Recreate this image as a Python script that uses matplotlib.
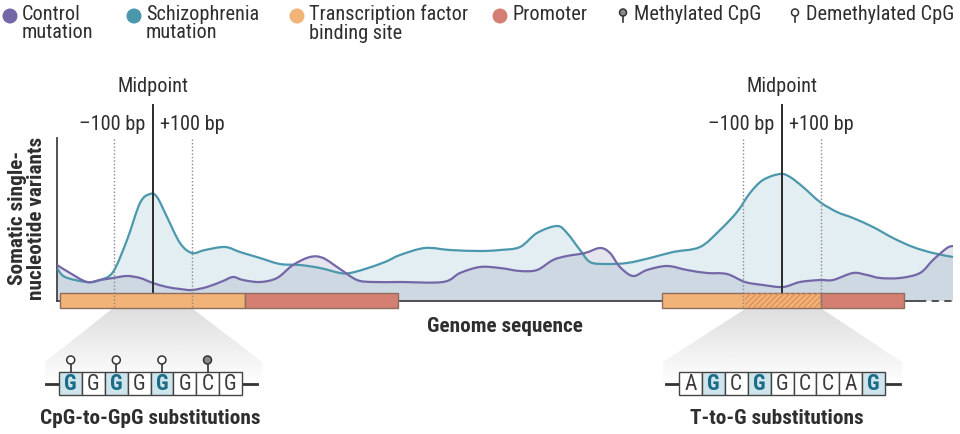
import numpy as np
import matplotlib
matplotlib.use("Agg")
import matplotlib.pyplot as plt
from matplotlib.path import Path
from matplotlib.patches import PathPatch, Rectangle, Circle, Polygon

plt.rcParams['font.family'] = ['Roboto Condensed', 'Roboto', 'DejaVu Sans']
plt.rcParams['hatch.linewidth'] = 1.0

# genome position (arbitrary units) and SNV density
schiz_x = [0, 8, 30, 43, 56, 70, 83, 93, 100, 110, 123, 135, 148, 168, 183, 203, 223, 243,
           263, 283, 293, 308, 328, 343, 368, 393, 423, 443, 463, 480, 500, 510, 523, 533,
           548, 570, 593, 616, 643, 663, 680, 693, 706, 723, 733, 746, 763, 780, 796, 816,
           836, 856, 876, 896]
schiz_y = [33, 24, 19, 21, 29, 61, 98, 107, 104, 84, 58, 48, 51, 54, 49, 43, 37, 36,
           33, 28, 28, 32, 39, 46, 53, 51, 50, 51, 54, 68, 75, 68, 51, 39,
           37, 38, 43, 49, 54, 71, 89, 108, 121, 127, 124, 114, 99, 89, 83, 74,
           63, 54, 48, 44]
ctrl_x = [0, 13, 30, 43, 56, 70, 83, 96, 110, 123, 135, 150, 166, 176, 186, 203, 220, 236,
          253, 266, 283, 300, 316, 343, 386, 403, 423, 443, 463, 480, 496, 510, 528, 543,
          553, 563, 576, 590, 610, 630, 650, 670, 688, 706, 726, 743, 763, 776, 796, 810,
          823, 843, 863, 876, 890, 896]
ctrl_y = [36, 28, 19, 21, 23, 25, 23, 18, 14, 12, 11, 14, 20, 24, 21, 19, 23, 36,
          44, 43, 32, 21, 19, 19, 19, 28, 34, 33, 30, 31, 41, 45, 48, 53,
          48, 34, 25, 31, 35, 31, 28, 27, 19, 16, 14, 19, 21, 21, 28, 26,
          23, 23, 28, 41, 53, 55]

# regions along the genome
tf_sites = [(3, 188), (605, 764)]
promoters = [(188, 341), (764, 847)]
overlap = (688, 764)
midpoints = [96, 725]
flank = 39  # +-100 bp

legend_labels = ["Control\nmutation", "Schizophrenia\nmutation", "Transcription factor\nbinding site", "Promoter"]
seq_left = list("GGGGGGCG")
seq_left_hl = [0, 2, 4]
seq_left_pins = [(0, False), (2, False), (4, False), (6, True)]
seq_right = list("AGCGGCCAG")
seq_right_hl = [1, 3, 8]

c_ctrl = '#7467a8'
c_schiz = '#4b97ac'
c_tf = '#f2b378'
c_prom = '#d57f72'
c_text = '#2e2e2e'
FS = 14.6
FB = 15.3


def smooth_path(x, y, close_base=None):
    # Catmull-Rom -> cubic bezier segments through the points
    x = np.asarray(x, float)
    y = np.asarray(y, float)
    pts = np.column_stack([x, y])
    verts = [pts[0]]
    codes = [Path.MOVETO]
    n = len(pts)
    for i in range(n - 1):
        p0 = pts[max(i - 1, 0)]
        p1 = pts[i]
        p2 = pts[i + 1]
        p3 = pts[min(i + 2, n - 1)]
        c1 = p1 + (p2 - p0) / 6.0
        c2 = p2 - (p3 - p1) / 6.0
        verts += [c1, c2, p2]
        codes += [Path.CURVE4] * 3
    if close_base is not None:
        verts += [(x[-1], close_base), (x[0], close_base), pts[0]]
        codes += [Path.LINETO, Path.LINETO, Path.CLOSEPOLY]
    return Path(verts, codes)


fig = plt.figure(figsize=(9.6, 4.34), dpi=100)
W, H = 960, 434
ax = fig.add_axes([57 / W, 1 - 301 / H, 898 / W, 163 / H])
ax.set_xlim(0, 898)
ax.set_ylim(0, 163)
ax.set_facecolor('none')
for s in ['top', 'right', 'bottom']:
    ax.spines[s].set_visible(False)
ax.spines['left'].set_color('#444444')
ax.spines['left'].set_linewidth(1.3)
ax.set_xticks([])
ax.set_yticks([])

ax.add_patch(PathPatch(smooth_path(schiz_x, schiz_y, 0), facecolor=c_schiz, alpha=0.16, lw=0, zorder=1))
ax.add_patch(PathPatch(smooth_path(ctrl_x, ctrl_y, 0), facecolor='#8082a8', alpha=0.2, lw=0, zorder=2))
ax.add_patch(PathPatch(smooth_path(schiz_x, schiz_y), facecolor='none', edgecolor=c_schiz, lw=1.6, zorder=3))
ax.add_patch(PathPatch(smooth_path(ctrl_x, ctrl_y), facecolor='none', edgecolor=c_ctrl, lw=1.6, zorder=4))

# genome baseline
ax.plot([0, 862], [0, 0], color='#444444', lw=1.3, zorder=5, clip_on=False)
ax.plot([862, 898], [0, 0], color='#444444', lw=1.3, ls=(0, (4, 3)), zorder=5, clip_on=False)

# midpoint and +-100 bp markers
for m in midpoints:
    ax.plot([m, m], [8, 196], color='#2b2b2b', lw=1.4, zorder=6, clip_on=False)
    for d in (-flank, flank):
        ax.plot([m + d, m + d], [-6, 163], color='#8a8a8a', lw=1.0, ls=(0, (1, 1.5)), zorder=9, clip_on=False)

# region bars
bar_y, bar_h = -7, 15
for (a, b) in tf_sites:
    ax.add_patch(Rectangle((a, bar_y), b - a, bar_h, facecolor=c_tf, edgecolor='#8c6e5e', lw=1.0, zorder=7, clip_on=False))
for (a, b) in promoters:
    ax.add_patch(Rectangle((a, bar_y), b - a, bar_h, facecolor=c_prom, edgecolor='#8c6e5e', lw=1.0, zorder=7, clip_on=False))
ax.add_patch(Rectangle((overlap[0], bar_y), overlap[1] - overlap[0], bar_h, facecolor='none',
                       edgecolor='#e0905c', hatch='//////', lw=0, zorder=8, clip_on=False))

# overlay in pixel coordinates for annotations
ov = fig.add_axes([0, 0, 1, 1], zorder=-1)
ov.set_xlim(0, W)
ov.set_ylim(H, 0)
ov.axis('off')
top = fig.add_axes([0, 0, 1, 1], zorder=5)
top.set_xlim(0, W)
top.set_ylim(H, 0)
top.axis('off')
top.patch.set_alpha(0)

# legend
leg_x = [10, 134, 297, 500]
leg_c = [c_ctrl, c_schiz, c_tf, c_prom]
for x, c, lab in zip(leg_x, leg_c, legend_labels):
    top.add_patch(Circle((x, 16), 7.5, color=c, lw=0))
    top.text(x + 12, 5, lab, ha='left', va='top', fontsize=FS, color=c_text, linespacing=0.95)


def pin(axh, x, y_base, filled, r=4.0, stem=8):
    axh.plot([x, x], [y_base, y_base - stem], color='#333333', lw=1.2, zorder=10)
    axh.add_patch(Circle((x, y_base - stem - r), r, facecolor='#8a8a8a' if filled else 'white',
                         edgecolor='#333333', lw=1.1, zorder=11))


pin(top, 623, 22, True, r=3.5, stem=6)
top.text(634, 5, "Methylated CpG", ha='left', va='top', fontsize=FS, color=c_text)
pin(top, 795, 22, False, r=3.5, stem=6)
top.text(806, 5, "Demethylated CpG", ha='left', va='top', fontsize=FS, color=c_text)

# midpoint labels
for m in midpoints:
    px = 57 + m
    top.text(px, 86, "Midpoint", ha='center', va='center', fontsize=FS, color=c_text)
    top.text(px - 8, 124, "\u2013100 bp", ha='right', va='center', fontsize=FS, color=c_text)
    top.text(px + 7, 124, "+100 bp", ha='left', va='center', fontsize=FS, color=c_text)

top.text(27, 218, "Somatic single-\nnucleotide variants", rotation=90, ha='center', va='center',
         fontsize=FB, fontweight='bold', color=c_text, linespacing=0.95)
top.text(505, 326, "Genome sequence", ha='center', va='center', fontsize=FB, fontweight='bold', color=c_text)

# magnifier shapes
grad = np.linspace(0.87, 1.0, 80)[:, None] * np.ones((1, 60))
for poly in ([(112, 309), (193, 309), (262, 362), (262, 385), (45, 385), (45, 362)],
             [(745, 309), (822, 309), (902, 362), (902, 385), (663, 385), (663, 362)]):
    pp = Polygon(poly, closed=True, facecolor='none', edgecolor='none')
    ov.add_patch(pp)
    xs = [p[0] for p in poly]
    im = ov.imshow(grad, cmap='gray', vmin=0, vmax=1, extent=(min(xs), max(xs), 385, 309),
                   aspect='auto', origin='upper', zorder=1)
    im.set_clip_path(pp)


def sequence(axh, x0, seq, hl, y0=372, bw=22.8, bh=23):
    n = len(seq)
    axh.plot([x0 - 13, x0], [y0 + bh / 2] * 2, color='#333333', lw=2, zorder=10)
    axh.plot([x0 + n * bw, x0 + n * bw + 15], [y0 + bh / 2] * 2, color='#333333', lw=2, zorder=10)
    for i, ch in enumerate(seq):
        h = i in hl
        axh.add_patch(Rectangle((x0 + i * bw, y0), bw, bh, facecolor='#cfe5ec' if h else 'white',
                                edgecolor='#444444', lw=1.0, zorder=10))
        axh.text(x0 + (i + 0.5) * bw, y0 + bh / 2 + 1, ch, ha='center', va='center', fontsize=15.5,
                 fontweight='bold' if h else 'normal', color='#1c6b87' if h else '#3a3a3a', zorder=11)


sequence(top, 59.3, seq_left, seq_left_hl)
for i, filled in seq_left_pins:
    pin(top, 59.3 + (i + 0.5) * 22.8, 372, filled)
sequence(top, 679, seq_right, seq_right_hl, bw=22.9)

top.text(150, 418, "CpG-to-GpG substitutions", ha='center', va='center', fontsize=FB, fontweight='bold', color=c_text)
top.text(777, 418, "T-to-G substitutions", ha='center', va='center', fontsize=FB, fontweight='bold', color=c_text)

fig.savefig("out.png", dpi=100)
